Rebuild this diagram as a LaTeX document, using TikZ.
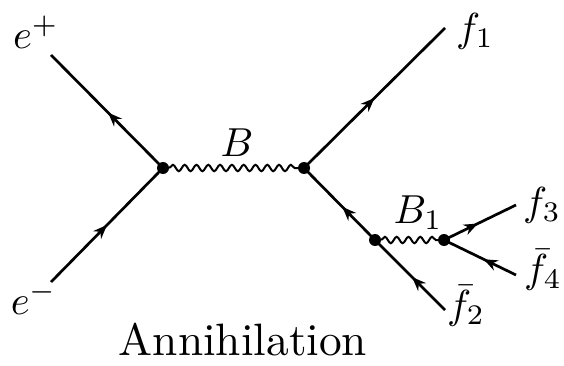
\documentclass[tikz,border=0pt]{standalone}
\usetikzlibrary{decorations.pathmorphing,decorations.markings,arrows.meta}
\tikzset{
  fermion/.style={line width=2.7pt,postaction={decorate},decoration={markings,mark=at position #1 with {\arrow{Stealth[length=14pt,width=11pt]}}}},
  boson/.style={line width=2pt,decorate,decoration={snake,amplitude=3.2pt,segment length=#1}},
  vertex/.style={circle,fill=black,inner sep=0pt,minimum size=12pt},
  lab/.style={inner sep=0pt,scale=4.05},
}
\begin{document}
\begin{tikzpicture}[x=1pt,y=-1pt]
\useasboundingbox (0,0) rectangle (564,366);
\node[vertex] (v1) at (163,168) {};
\node[vertex] (v2) at (304,168) {};
\node[vertex] (v3) at (375,240) {};
\node[vertex] (v4) at (444,240) {};
\coordinate (ep) at (51,55);
\coordinate (em) at (51,282);
\coordinate (f1) at (445,28);
\coordinate (f2) at (445,310);
\coordinate (f3) at (516,205);
\coordinate (f4) at (516,275);
\draw[fermion=0.49] (v1.center) -- (ep);
\draw[fermion=0.5] (em) -- (v1.center);
\draw[fermion=0.5] (v2.center) -- (f1);
\draw[fermion=0.46] (v3.center) -- (v2.center);
\draw[fermion=0.47] (f2) -- (v3.center);
\draw[fermion=0.47] (v4.center) -- (f3);
\draw[fermion=0.45] (f4) -- (v4.center);
\draw[boson=11.8pt] (v1) -- (v2);
\draw[boson=11.8pt] (v3) -- (v4);
\node[lab] (tep) at (36,32) {$e^+$};
\node[lab] (tem) at (34,298) {$e^-$};
\node[lab] (tf1) at (475,31) {$f_1$};
\node[lab] (tf2) at (466,306) {$\bar f_2$};
\node[lab] (tf3) at (542,205) {$f_3$};
\node[lab] (tf4) at (543,270) {$\bar f_4$};
\node[lab] (tb) at (237,143) {$B$};
\node[lab] (tb1) at (418,213) {$B_1$};
\node[lab,scale=1.12] (ann) at (243,340) {Annihilation};
\end{tikzpicture}
\end{document}
